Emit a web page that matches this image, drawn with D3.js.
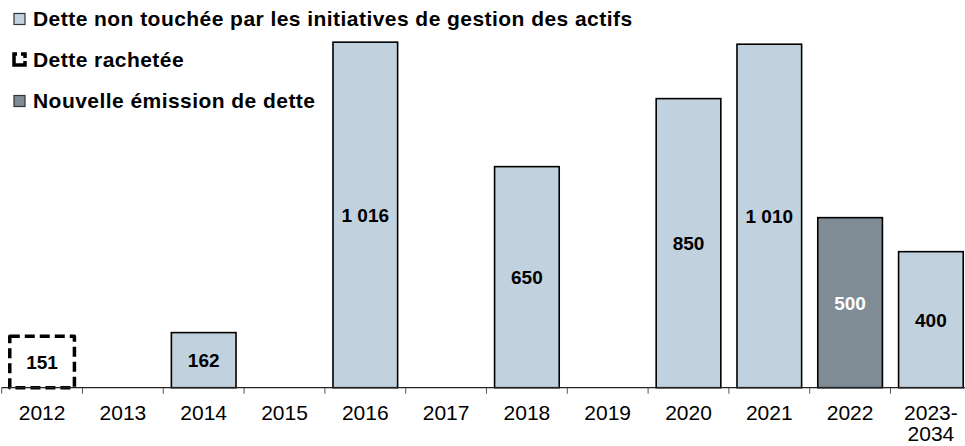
<!DOCTYPE html>
<html>
<head>
<meta charset="utf-8">
<script src="https://cdn.jsdelivr.net/npm/d3@7/dist/d3.min.js"></script>
<style>
  html, body { margin: 0; padding: 0; background: #fff; }
  svg { display: block; font-family: "Liberation Sans", Arial, sans-serif; }
</style>
</head>
<body>
<svg id="chart" width="965" height="446"></svg>
<script>
// ---- data ----
const categories = ["2012","2013","2014","2015","2016","2017","2018","2019","2020","2021","2022","2023-2034"];
const tickLabels = [["2012"],["2013"],["2014"],["2015"],["2016"],["2017"],["2018"],["2019"],["2020"],["2021"],["2022"],["2023-","2034"]];
const detteNonTouchee = [0, 0, 162, 0, 1016, 0, 650, 0, 850, 1010, 0, 400];
const detteRachetee   = [151, 0, 0, 0, 0, 0, 0, 0, 0, 0, 0, 0];
const nouvelleEmission = [0, 0, 0, 0, 0, 0, 0, 0, 0, 0, 500, 0];
const valueLabels = ["151", "", "162", "", "1 016", "", "650", "", "850", "1 010", "500", "400"];
const seriesNames = ["Dette non touchée par les initiatives de gestion des actifs", "Dette rachetée", "Nouvelle émission de dette"];

// ---- styles ----
const colLight = "#c1d2de";
const colDark = "#7f8c96";

const svg = d3.select("#chart");

const rows = categories.map((c, i) => ({
  cat: c,
  nonTouchee: detteNonTouchee[i],
  rachetee: detteRachetee[i],
  nouvelle: nouvelleEmission[i],
  label: valueLabels[i]
}));
const keys = ["nonTouchee", "rachetee", "nouvelle"];
const stacked = d3.stack().keys(keys)(rows);

const x = d3.scaleBand().domain(categories).range([1.7, 1.7 + 12 * 80.8]).paddingInner(0.2).paddingOuter(0.1);
const y = d3.scaleLinear().domain([0, 1140]).range([387.7, 0]);

const styles = {
  nonTouchee: { fill: colLight, stroke: "#000", sw: 1.6, dash: null },
  rachetee:   { fill: "none", stroke: "#000", sw: 3.5, dash: "10,5" },
  nouvelle:   { fill: colDark, stroke: "#000", sw: 1.6, dash: null }
};

stacked.forEach(layer => {
  const st = styles[layer.key];
  svg.append("g").selectAll("rect")
    .data(layer.filter(d => d[1] - d[0] > 0))
    .join("rect")
    .attr("x", d => x(d.data.cat))
    .attr("y", d => y(d[1]))
    .attr("width", x.bandwidth())
    .attr("height", d => y(d[0]) - y(d[1]))
    .attr("fill", st.fill)
    .attr("stroke", st.stroke)
    .attr("stroke-width", st.sw)
    .attr("stroke-dasharray", st.dash)
    .attr("stroke-linejoin", layer.key === "rachetee" ? "round" : "miter");
});

// axis line and boundary ticks
const axisG = svg.append("g");
axisG.append("line")
  .attr("x1", x.range()[0]).attr("x2", x.range()[1])
  .attr("y1", y(0)).attr("y2", y(0))
  .attr("stroke", "#222").attr("stroke-width", 1.2);
const half = x.step() * x.paddingInner() / 2;
axisG.selectAll("line.tick")
  .data(categories.concat(["end"]))
  .join("line")
  .attr("class", "tick")
  .attr("x1", (d, i) => (i < categories.length ? x(d) - half : x(categories[categories.length - 1]) + x.bandwidth() + half))
  .attr("x2", (d, i) => (i < categories.length ? x(d) - half : x(categories[categories.length - 1]) + x.bandwidth() + half))
  .attr("y1", y(0)).attr("y2", y(0) + 6)
  .attr("stroke", "#555").attr("stroke-width", 1);

// axis labels
const lbl = axisG.selectAll("text.cat")
  .data(categories)
  .join("text")
  .attr("class", "cat")
  .attr("x", d => x(d) + x.bandwidth() / 2)
  .attr("y", 420)
  .attr("text-anchor", "middle")
  .attr("font-size", "21px")
  .attr("fill", "#000");
lbl.each(function(d, i) {
  const t = d3.select(this);
  tickLabels[i].forEach((line, k) => {
    t.append("tspan").attr("x", x(d) + x.bandwidth() / 2).attr("dy", k === 0 ? 0 : 21).text(line);
  });
});

// value labels
svg.append("g").selectAll("text")
  .data(rows.filter(r => r.label))
  .join("text")
  .attr("x", d => x(d.cat) + x.bandwidth() / 2)
  .attr("y", d => {
    const total = d.nonTouchee + d.rachetee + d.nouvelle;
    return (y(0) + y(total)) / 2;
  })
  .attr("dy", "0.36em")
  .attr("text-anchor", "middle")
  .attr("font-size", "19px")
  .attr("font-weight", "bold")
  .attr("fill", d => d.nouvelle > 0 ? "#fff" : "#000")
  .text(d => d.label);

// legend
const legend = svg.append("g");
const legendY = [26, 67, 108];
seriesNames.forEach((name, i) => {
  const g = legend.append("g");
  if (i === 1) {
    g.append("rect").attr("x", 14).attr("y", 54).attr("width", 11).attr("height", 11)
      .attr("fill", "none").attr("stroke", "#000").attr("stroke-width", 3.5)
      .attr("stroke-dasharray", "3,4,8,3,26");
  } else {
    g.append("rect").attr("x", 14).attr("y", legendY[i] - 12.5).attr("width", 11).attr("height", 11)
      .attr("fill", i === 0 ? colLight : colDark).attr("stroke", "#333").attr("stroke-width", 1.2);
  }
  g.append("text").attr("x", 33).attr("y", legendY[i])
    .attr("font-size", "21px").attr("font-weight", "bold").attr("letter-spacing", "0.45px")
    .attr("fill", "#000").text(name);
});
</script>
</body>
</html>
